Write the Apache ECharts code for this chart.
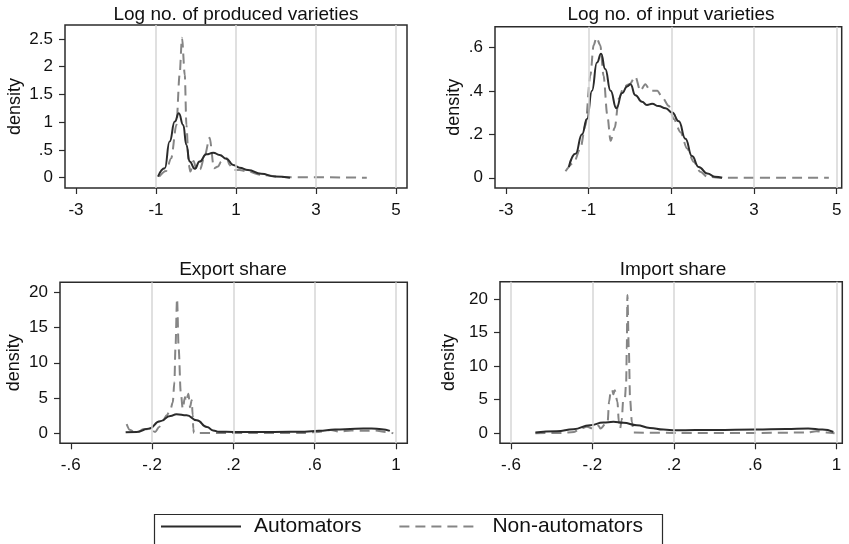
<!DOCTYPE html>
<html>
<head>
<meta charset="utf-8">
<script src="https://cdn.jsdelivr.net/npm/echarts@6/dist/echarts.min.js"></script>
<style>
  html, body { margin: 0; padding: 0; background: #fff; }
  #chart { width: 849px; height: 544px; }
</style>
</head>
<body>
<div id="chart"></div>
<script>
// Kernel density estimates, [x, density] pairs
const producedAuto = [[-0.95,0.02],[-0.78,0.17],[-0.66,0.65],[-0.53,1.01],[-0.43,1.16],[-0.32,0.95],[-0.24,0.59],[-0.16,0.29],[-0.03,0.16],[0.09,0.29],[0.26,0.42],[0.43,0.45],[0.59,0.41],[0.76,0.34],[0.93,0.23],[1.09,0.18],[1.30,0.14],[1.63,0.07],[1.97,0.02],[2.35,0.0]];
const producedNon = [[-0.92,0.02],[-0.75,0.12],[-0.62,0.35],[-0.49,0.95],[-0.41,1.85],[-0.35,2.52],[-0.28,1.85],[-0.24,0.95],[-0.18,0.23],[-0.14,0.11],[-0.06,0.3],[0.02,0.12],[0.1,0.15],[0.22,0.4],[0.34,0.72],[0.45,0.17],[0.55,0.2],[0.63,0.29],[0.77,0.35],[0.84,0.23],[0.93,0.14],[1.09,0.14],[1.3,0.11],[1.63,0.05],[2.2,0.01],[4.27,0]];

const inputAuto = [[-1.48,0.05],[-1.32,0.11],[-1.16,0.2],[-1.04,0.27],[-0.92,0.40],[-0.80,0.53],[-0.70,0.57],[-0.60,0.50],[-0.47,0.40],[-0.33,0.32],[-0.19,0.39],[-0.07,0.42],[0.01,0.43],[0.13,0.38],[0.29,0.35],[0.41,0.335],[0.535,0.34],[0.69,0.33],[0.86,0.32],[1.02,0.30],[1.18,0.26],[1.34,0.18],[1.5,0.1],[1.66,0.05],[1.87,0.02],[2.05,0.005],[2.23,0]];
const inputNon = [[-1.56,0.03],[-1.36,0.07],[-1.2,0.135],[-1.08,0.24],[-0.96,0.47],[-0.88,0.61],[-0.81,0.645],[-0.72,0.61],[-0.64,0.47],[-0.55,0.29],[-0.47,0.17],[-0.37,0.23],[-0.27,0.365],[-0.15,0.42],[-0.015,0.43],[0.13,0.465],[0.25,0.40],[0.37,0.43],[0.49,0.40],[0.66,0.40],[0.78,0.37],[0.94,0.33],[1.06,0.27],[1.22,0.21],[1.38,0.135],[1.54,0.074],[1.70,0.028],[1.87,0.005],[2.2,0],[4.81,0]];

const exportAuto = [[-0.33,0.15],[-0.275,0.2],[-0.218,0.65],[-0.16,1.7],[-0.11,2.45],[-0.08,2.7],[-0.03,2.55],[0.02,1.85],[0.07,0.9],[0.1,0.4],[0.13,0.22],[0.2,0.2],[0.4,0.2],[0.55,0.22],[0.62,0.35],[0.7,0.52],[0.8,0.65],[0.88,0.68],[0.93,0.58],[0.97,0.35]];
const exportNon = [[-0.325,1.3],[-0.31,0.5],[-0.28,0.05],[-0.24,0.6],[-0.21,0.55],[-0.185,0.2],[-0.165,0.9],[-0.145,1.85],[-0.128,2.55],[-0.11,3.3],[-0.098,4.4],[-0.09,7.3],[-0.085,12],[-0.077,19.1],[-0.069,12],[-0.059,5.9],[-0.049,3.5],[-0.038,5.15],[-0.033,4.5],[-0.021,5.6],[-0.013,3.7],[-0.005,4.7],[0.0,2.55],[0.003,0.65],[0.006,0.05],[0.3,0.05],[0.55,0.05],[0.62,0.2],[0.68,0.47],[0.72,0.25],[0.78,0.4],[0.85,0.35],[0.9,0.4],[0.95,0.2],[0.987,0]];

const importAuto = [[-0.48,0.1],[-0.375,0.3],[-0.293,0.6],[-0.211,1.2],[-0.146,1.6],[-0.097,1.7],[-0.048,1.55],[0.018,1.2],[0.083,0.8],[0.149,0.55],[0.21,0.45],[0.4,0.5],[0.6,0.55],[0.75,0.65],[0.86,0.72],[0.93,0.55],[0.984,0.2]];
const importNon = [[-0.48,0.0],[-0.35,0.05],[-0.29,0.2],[-0.26,0.7],[-0.227,0.95],[-0.195,0.7],[-0.17,1.1],[-0.16,0.7],[-0.138,1.3],[-0.125,1.7],[-0.118,4.7],[-0.11,6.2],[-0.103,6.5],[-0.097,5.8],[-0.09,6.4],[-0.077,4.7],[-0.07,1.7],[-0.064,0.7],[-0.056,1.95],[-0.048,5.2],[-0.04,5.3],[-0.034,7.7],[-0.031,12.6],[-0.028,20.6],[-0.021,12.6],[-0.015,5.2],[-0.006,1.7],[0.003,0.1],[0.2,0.05],[0.6,0.05],[0.85,0.1],[0.9,0.3],[0.95,0.1],[0.99,0]];

// Panel titles and tick values
const panelTitles = ['Log no. of produced varieties', 'Log no. of input varieties', 'Export share', 'Import share'];
const logXTicks = [-3, -1, 1, 3, 5];
const shareXTicks = [-0.6, -0.2, 0.2, 0.6, 1];
const producedYTicks = [0, 0.5, 1, 1.5, 2, 2.5];
const inputYTicks = [0, 0.2, 0.4, 0.6];
const shareYTicks = [0, 5, 10, 15, 20];
const producedGrid = [-1, 1, 3, 5];
const inputGrid = [-1, 1, 3, 5];
const exportGrid = [-0.2, 0.2, 0.6, 1];
const importGrid = [-0.6, -0.2, 0.2, 0.6, 1];
const seriesNames = ['Automators', 'Non-automators'];

const FONT = 'Liberation Sans, Arial, sans-serif';
const DARK = '#2b2b2b';
const GREY = '#858585';

// Stata-style number labels: drop the leading zero
const fmt = v => {
  const s = String(Math.round(v * 1000) / 1000);
  return s.replace(/^(-?)0\./, '$1.');
};

const panels = [
  { rect: [65, 25, 342, 163], x: [-3.275, 5.275], y: [-0.186, 2.75], xt: logXTicks, yt: producedYTicks, grid: producedGrid, gap: 41, a: producedAuto, n: producedNon, tx: 236, ty: 5 },
  { rect: [495, 26.7, 346.7, 161.3], x: [-3.266, 5.121], y: [-0.047, 0.695], xt: logXTicks, yt: inputYTicks, grid: inputGrid, gap: 32, a: inputAuto, n: inputNon, tx: 671, ty: 5 },
  { rect: [60, 282.3, 347.3, 161], x: [-0.653, 1.056], y: [-1.42, 21.42], xt: shareXTicks, yt: shareYTicks, grid: exportGrid, gap: 37, a: exportAuto, n: exportNon, tx: 233, ty: 260 },
  { rect: [500, 281.7, 342.3, 161.6], x: [-0.654, 1.028], y: [-1.5, 22.6], xt: shareXTicks, yt: shareYTicks, grid: importGrid, gap: 42, a: importAuto, n: importNon, tx: 673, ty: 260 }
];

const option = {
  animation: false,
  backgroundColor: '#fff',
  textStyle: { fontFamily: FONT },
  title: panels.map((p, i) => ({
    text: panelTitles[i], left: p.tx, top: p.ty, textAlign: 'center', padding: 0,
    textStyle: { fontFamily: FONT, fontSize: 19, fontWeight: 'normal', color: '#111' }
  })),
  grid: panels.map(p => ({
    left: p.rect[0], top: p.rect[1], width: p.rect[2], height: p.rect[3],
    show: true, borderColor: DARK, borderWidth: 1.5, backgroundColor: 'transparent'
  })),
  xAxis: panels.map((p, i) => ({
    type: 'value', gridIndex: i, min: p.x[0], max: p.x[1],
    axisLine: { show: false, onZero: false },
    axisTick: { show: true, inside: false, length: 6, customValues: p.xt, lineStyle: { color: DARK, width: 1.2 } },
    axisLabel: { customValues: p.xt, formatter: fmt, fontSize: 17, color: '#111', margin: 14, fontFamily: FONT },
    splitLine: { show: false }
  })),
  yAxis: panels.map((p, i) => ({
    type: 'value', gridIndex: i, min: p.y[0], max: p.y[1],
    name: 'density', nameLocation: 'middle', nameRotate: 90, nameGap: p.gap,
    nameTextStyle: { fontSize: 18, color: '#111', fontFamily: FONT },
    axisLine: { show: false, onZero: false },
    axisTick: { show: true, inside: false, length: 6, customValues: p.yt, lineStyle: { color: DARK, width: 1.2 } },
    axisLabel: { customValues: p.yt, formatter: fmt, fontSize: 17, color: '#111', margin: 12, fontFamily: FONT },
    splitLine: { show: false }
  })),
  legend: {
    left: 160, top: 516, padding: 0, itemGap: 37, itemWidth: 80, itemHeight: 14,
    data: seriesNames,
    itemStyle: { opacity: 0 },
    textStyle: { fontSize: 21, color: '#111', fontFamily: FONT, padding: [0, 0, 0, 8] }
  },
  graphic: [{
    type: 'rect', left: 152, top: 512,
    shape: { width: 508, height: 40 },
    style: { fill: 'none', stroke: DARK, lineWidth: 1.2 }
  }],
  series: []
};

panels.forEach((p, i) => {
  option.series.push({
    name: seriesNames[1], type: 'line', xAxisIndex: i, yAxisIndex: i,
    data: p.n, showSymbol: false, symbol: 'none', smooth: 0.3, smoothMonotone: 'x',
    lineStyle: { color: GREY, width: 2, type: [10, 6] }, itemStyle: { color: GREY },
    z: 3,
    markLine: {
      silent: true, symbol: 'none', label: { show: false },
      lineStyle: { color: '#d6d6d6', width: 1.5, type: 'solid' },
      data: p.grid.map(v => ({ xAxis: v }))
    }
  });
  option.series.push({
    name: seriesNames[0], type: 'line', xAxisIndex: i, yAxisIndex: i,
    data: p.a, showSymbol: false, symbol: 'none', smooth: 0.5, smoothMonotone: 'x',
    lineStyle: { color: DARK, width: 2, type: 'solid' }, itemStyle: { color: DARK },
    z: 4
  });
});

const chart = echarts.init(document.getElementById('chart'), null, { renderer: 'canvas' });
chart.setOption(option);
</script>
</body>
</html>
